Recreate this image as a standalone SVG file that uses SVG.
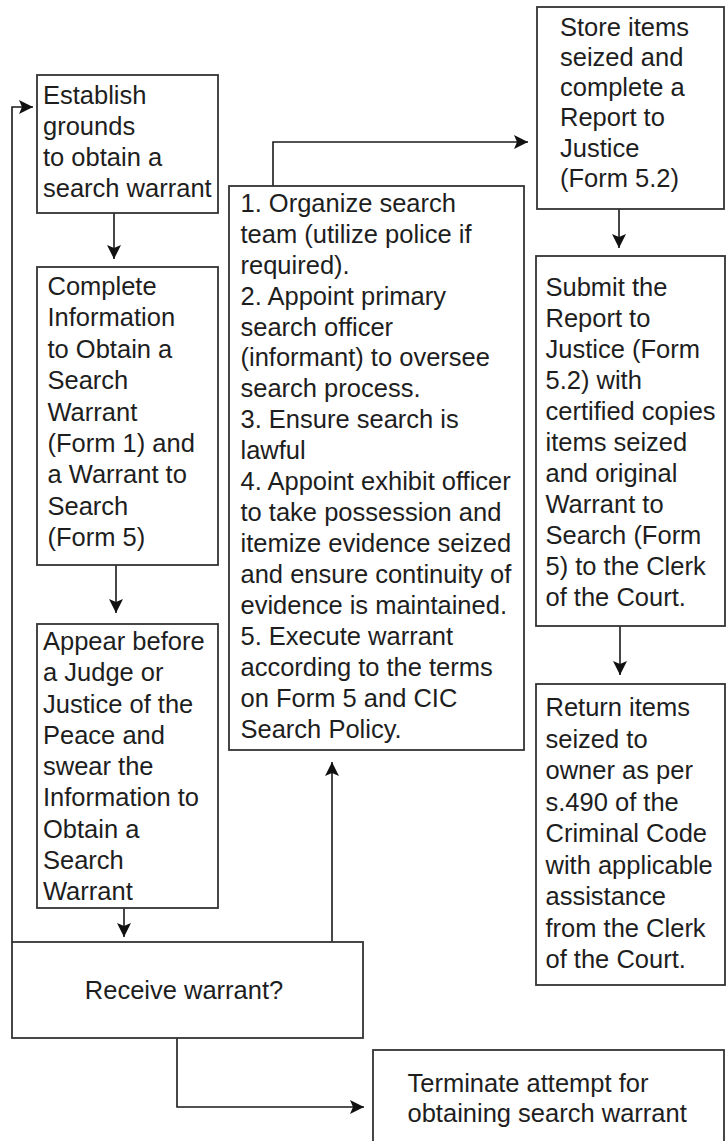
<svg xmlns="http://www.w3.org/2000/svg" width="727" height="1141" viewBox="0 0 727 1141">
<style>
.box{fill:#fff;stroke:#333;stroke-width:1.8}
.t{font-family:"Liberation Sans",Arial,sans-serif;font-size:25.5px;fill:#1e1e1e}
.c{fill:none;stroke:#1a1a1a;stroke-width:1.6}
</style>
<defs>
<marker id="ah" markerUnits="userSpaceOnUse" markerWidth="15" markerHeight="15" refX="14" refY="7" orient="auto">
<path d="M0,0 L14,7 L0,14 L3,7 z" fill="#111"/>
</marker>
</defs>
<rect width="727" height="1141" fill="#fff"/>
<g id="connectors">
<path class="c" d="M114,213 V259" marker-end="url(#ah)"/>
<path class="c" d="M116,565 V613" marker-end="url(#ah)"/>
<path class="c" d="M124,908 V937" marker-end="url(#ah)"/>
<path class="c" d="M332,942 V762" marker-end="url(#ah)"/>
<path class="c" d="M12,942 V107 H33" marker-end="url(#ah)"/>
<path class="c" d="M273,186 V142 H528" marker-end="url(#ah)"/>
<path class="c" d="M619,209 V248" marker-end="url(#ah)"/>
<path class="c" d="M620,626 V675" marker-end="url(#ah)"/>
<path class="c" d="M177,1038 V1107 H364" marker-end="url(#ah)"/>
</g>
<g id="establish">
<rect class="box" x="37" y="75" width="181" height="138"/>
<text class="t" x="43" y="104"><tspan x="43">Establish</tspan><tspan x="43" dy="31">grounds</tspan><tspan x="43" dy="31">to obtain a</tspan><tspan x="43" dy="31">search warrant</tspan></text>
</g>
<g id="complete">
<rect class="box" x="37" y="267" width="181" height="298"/>
<text class="t" x="47.5" y="295"><tspan x="47.5">Complete</tspan><tspan x="47.5" dy="31.4">Information</tspan><tspan x="47.5" dy="31.4">to Obtain a</tspan><tspan x="47.5" dy="31.4">Search</tspan><tspan x="47.5" dy="31.4">Warrant</tspan><tspan x="47.5" dy="31.4">(Form 1) and</tspan><tspan x="47.5" dy="31.4">a Warrant to</tspan><tspan x="47.5" dy="31.4">Search</tspan><tspan x="47.5" dy="31.4">(Form 5)</tspan></text>
</g>
<g id="appear">
<rect class="box" x="37" y="624" width="181" height="284"/>
<text class="t" x="43" y="650"><tspan x="43">Appear before</tspan><tspan x="43" dy="31.25">a Judge or</tspan><tspan x="43" dy="31.25">Justice of the</tspan><tspan x="43" dy="31.25">Peace and</tspan><tspan x="43" dy="31.25">swear the</tspan><tspan x="43" dy="31.25">Information to</tspan><tspan x="43" dy="31.25">Obtain a</tspan><tspan x="43" dy="31.25">Search</tspan><tspan x="43" dy="31.25">Warrant</tspan></text>
</g>
<g id="receive">
<rect class="box" x="12" y="942" width="351" height="96"/>
<text class="t" x="184" y="999" text-anchor="middle">Receive warrant?</text>
</g>
<g id="execute">
<rect class="box" x="229" y="186" width="295" height="564"/>
<text class="t" x="240.5" y="211.7"><tspan x="240.5">1. Organize search</tspan><tspan x="240.5" dy="30.95">team (utilize police if</tspan><tspan x="240.5" dy="30.95">required).</tspan><tspan x="240.5" dy="30.95">2. Appoint primary</tspan><tspan x="240.5" dy="30.95">search officer</tspan><tspan x="240.5" dy="30.95">(informant) to oversee</tspan><tspan x="240.5" dy="30.95">search process.</tspan><tspan x="240.5" dy="30.95">3. Ensure search is</tspan><tspan x="240.5" dy="30.95">lawful</tspan><tspan x="240.5" dy="30.95">4. Appoint exhibit officer</tspan><tspan x="240.5" dy="30.95">to take possession and</tspan><tspan x="240.5" dy="30.95">itemize evidence seized</tspan><tspan x="240.5" dy="30.95">and ensure continuity of</tspan><tspan x="240.5" dy="30.95">evidence is maintained.</tspan><tspan x="240.5" dy="30.95">5. Execute warrant</tspan><tspan x="240.5" dy="30.95">according to the terms</tspan><tspan x="240.5" dy="30.95">on Form 5 and CIC</tspan><tspan x="240.5" dy="30.95">Search Policy.</tspan></text>
</g>
<g id="store">
<rect class="box" x="537" y="7" width="187" height="202"/>
<text class="t" x="560" y="35.5"><tspan x="560">Store items</tspan><tspan x="560" dy="30.3">seized and</tspan><tspan x="560" dy="30.3">complete a</tspan><tspan x="560" dy="30.3">Report to</tspan><tspan x="560" dy="30.3">Justice</tspan><tspan x="560" dy="30.3">(Form 5.2)</tspan></text>
</g>
<g id="submit">
<rect class="box" x="536" y="256" width="189" height="370"/>
<text class="t" x="545.5" y="296"><tspan x="545.5">Submit the</tspan><tspan x="545.5" dy="31">Report to</tspan><tspan x="545.5" dy="31">Justice (Form</tspan><tspan x="545.5" dy="31">5.2) with</tspan><tspan x="545.5" dy="31">certified copies</tspan><tspan x="545.5" dy="31">items seized</tspan><tspan x="545.5" dy="31">and original</tspan><tspan x="545.5" dy="31">Warrant to</tspan><tspan x="545.5" dy="31">Search (Form</tspan><tspan x="545.5" dy="31">5) to the Clerk</tspan><tspan x="545.5" dy="31">of the Court.</tspan></text>
</g>
<g id="return">
<rect class="box" x="536" y="684" width="189" height="301"/>
<text class="t" x="545.5" y="716"><tspan x="545.5">Return items</tspan><tspan x="545.5" dy="31.5">seized to</tspan><tspan x="545.5" dy="31.5">owner as per</tspan><tspan x="545.5" dy="31.5">s.490 of the</tspan><tspan x="545.5" dy="31.5">Criminal Code</tspan><tspan x="545.5" dy="31.5">with applicable</tspan><tspan x="545.5" dy="31.5">assistance</tspan><tspan x="545.5" dy="31.5">from the Clerk</tspan><tspan x="545.5" dy="31.5">of the Court.</tspan></text>
</g>
<g id="terminate">
<rect class="box" x="373" y="1050" width="351" height="120"/>
<text class="t" x="407.5" y="1091.7"><tspan x="407.5">Terminate attempt for</tspan><tspan x="407.5" dy="30">obtaining search warrant</tspan></text>
</g>
</svg>
